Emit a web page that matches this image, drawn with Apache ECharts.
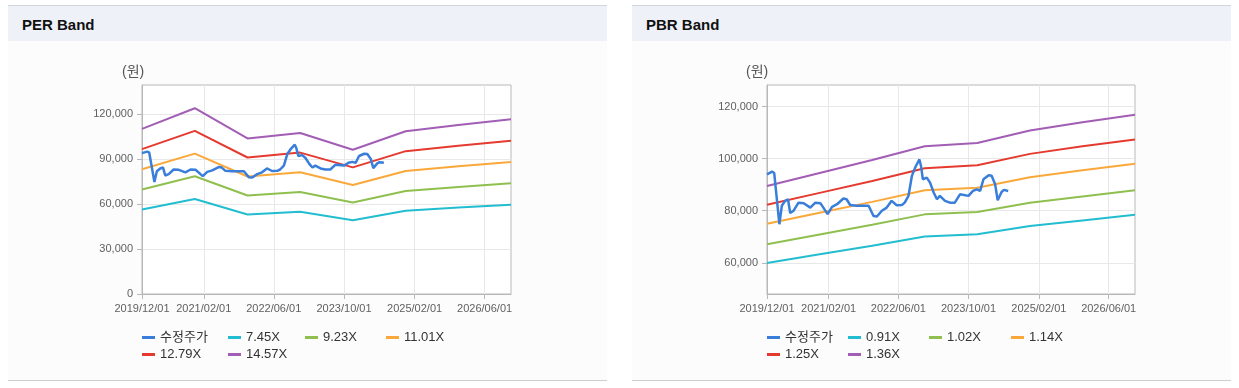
<!DOCTYPE html>
<html><head><meta charset="utf-8">
<script src="https://cdn.jsdelivr.net/npm/echarts@6/dist/echarts.min.js"></script>
<style>
html,body{margin:0;padding:0;background:#fff;width:1239px;height:388px;overflow:hidden;position:relative}
.panel{position:absolute;top:5px;height:374px;width:599px;background:#fcfcfc;border-top:1px solid #d3d6da;border-bottom:1px solid #cdcdcd}
.head{position:absolute;left:0;top:0;width:100%;height:35px;background:#eef2f8;font-family:"Liberation Sans",Arial,sans-serif;font-weight:bold;font-size:15px;line-height:37px;color:#111;padding-left:14px;box-sizing:border-box}
#c{position:absolute;left:0;top:0;width:1239px;height:388px}
</style>
</head><body>
<div class="panel" style="left:8px"><div class="head">PER Band</div></div>
<div class="panel" style="left:632px"><div class="head">PBR Band</div></div>
<div id="c"></div>
<script>
// ---- data ----
const X_MIN = '2019/12/01';
const X_MAX = '2026/12/01';
const X_TICK_LABELS = ['2019/12/01', '2021/02/01', '2022/06/01', '2023/10/01', '2025/02/01', '2026/06/01'];
const BAND_DATES = ['2019/12/01', '2020/12/01', '2021/12/01', '2022/12/01', '2023/12/01', '2024/12/01', '2025/12/01', '2026/12/01'];

const PER_NAMES = ['7.45X', '9.23X', '11.01X', '12.79X', '14.57X'];
const PER_745 = [56340, 63410, 53070, 54970, 49250, 55530, 57680, 59620];
const PER_923 = [69810, 78560, 65760, 68100, 61010, 68800, 71460, 73860];
const PER_1101 = [83270, 93710, 78440, 81230, 72780, 82070, 85240, 88100];
const PER_1279 = [96730, 108860, 91120, 94370, 84540, 95340, 99020, 102350];
const PER_1457 = [110190, 124010, 103800, 107500, 96310, 108610, 112800, 116590];
const PER_Y_TICKS = [0, 30000, 60000, 90000, 120000];

const PBR_NAMES = ['0.91X', '1.02X', '1.14X', '1.25X', '1.36X'];
const PBR_091 = [59890, 63240, 66580, 70130, 70930, 74140, 76280, 78420];
const PBR_102 = [67130, 70880, 74620, 78600, 79500, 83100, 85500, 87900];
const PBR_114 = [75020, 79220, 83400, 87850, 88850, 92880, 95560, 98050];
const PBR_125 = [82260, 86860, 91450, 96330, 97430, 101840, 104780, 107400];
const PBR_136 = [89500, 94510, 99500, 104800, 106000, 110800, 114000, 116900];
const PBR_Y_TICKS = [60000, 80000, 100000, 120000];

const PRICE_NAME = '수정주가';
const PRICE_DATES = ['2019/12/01','2020/01/05','2020/01/20','2020/02/25','2020/03/13','2020/04/05','2020/04/25','2020/05/10','2020/06/03','2020/07/07','2020/08/12','2020/09/27','2020/11/01','2020/12/06','2021/01/25','2021/02/25','2021/04/01','2021/05/15','2021/06/06','2021/07/01','2021/08/15','2021/11/06','2021/12/10','2022/01/03','2022/02/06','2022/03/12','2022/04/15','2022/05/20','2022/06/25','2022/07/15','2022/08/10','2022/09/03','2022/09/28','2022/10/25','2022/11/05','2022/11/18','2022/12/15','2023/01/07','2023/02/01','2023/02/24','2023/03/16','2023/04/21','2023/05/25','2023/06/28','2023/08/03','2023/10/01','2023/11/01','2023/11/28','2023/12/21','2024/01/13','2024/02/18','2024/03/10','2024/04/03','2024/04/21','2024/05/18','2024/06/03','2024/07/03'];
const PRICE_VALUES = [94000,95000,94500,74800,81900,83800,84400,79100,80000,83100,82900,81200,83100,82900,78700,81500,82500,84700,84400,82200,81900,81900,78000,77800,80000,81200,83800,82100,82200,83100,85700,93400,96900,99700,97200,92100,92700,90800,87000,84400,85700,83800,83100,83100,86300,85700,87600,88200,87600,92100,93600,93400,90200,84000,87200,88000,87600];

const PRICE_COLOR = '#3a7edb';
const BAND_COLORS = ['#22bdd0', '#8fc04f', '#fba83a', '#e53a2f', '#a25db5'];

// ---- build ----
const ts = s => { const p = s.split('/'); return new Date(+p[0], +p[1] - 1, +p[2]).getTime(); };
const pairs = (ds, vs) => ds.map((d, i) => [ts(d), vs[i]]);
const pad = n => (n < 10 ? '0' : '') + n;
const fmtDate = v => { const d = new Date(v); return d.getFullYear() + '/' + pad(d.getMonth() + 1) + '/' + pad(d.getDate()); };
const fmtNum = v => String(Math.round(v)).replace(/\B(?=(\d{3})+(?!\d))/g, ',');
const FONT = '"Liberation Sans", Arial, "Noto Sans CJK KR", sans-serif';
const AXIS_COLOR = '#b8b8b8';
const GRID_W = 369, GRID_H = 209, GRID_TOP = 85;
const X_TICKS = X_TICK_LABELS.map(ts);

function xAxis(gi) {
  return {
    type: 'value', gridIndex: gi, min: ts(X_MIN), max: ts(X_MAX),
    axisLine: { lineStyle: { color: AXIS_COLOR } },
    axisTick: { show: true, length: 5, customValues: X_TICKS, lineStyle: { color: AXIS_COLOR } },
    axisLabel: { customValues: X_TICKS, formatter: fmtDate, fontSize: 11, color: '#606060', fontFamily: FONT, margin: 9, showMinLabel: true, showMaxLabel: true, hideOverlap: false },
    splitLine: { show: true, lineStyle: { color: '#e8e8e8' } }
  };
}
function yAxis(gi, min, max, ticks) {
  return {
    type: 'value', gridIndex: gi, min: min, max: max, scale: true,
    axisLine: { show: true, lineStyle: { color: AXIS_COLOR } },
    axisTick: { show: true, length: 5, customValues: ticks, lineStyle: { color: AXIS_COLOR } },
    axisLabel: { customValues: ticks, formatter: fmtNum, fontSize: 11, color: '#606060', fontFamily: FONT, margin: 9 },
    splitLine: { show: true, lineStyle: { color: '#e8e8e8' } }
  };
}
function band(name, gi, vals, color) {
  return { name: name, type: 'line', xAxisIndex: gi, yAxisIndex: gi, data: pairs(BAND_DATES, vals), symbol: 'none', lineStyle: { width: 2, color: color }, itemStyle: { color: color }, z: 2 };
}
function price(gi) {
  return { name: PRICE_NAME, type: 'line', xAxisIndex: gi, yAxisIndex: gi, data: pairs(PRICE_DATES, PRICE_VALUES), symbol: 'none', lineStyle: { width: 2.5, color: PRICE_COLOR }, itemStyle: { color: PRICE_COLOR }, z: 5 };
}
function legendItem(name, left, top) {
  return { data: [name], left: left, top: top, padding: 0, icon: 'rect', itemWidth: 13, itemHeight: 3, selectedMode: false, textStyle: { fontSize: 13, color: '#333', fontFamily: FONT } };
}
const R1 = 331, R2 = 348;
const perSeries = [price(0)].concat(PER_NAMES.map((n, i) => band(n, 0, [PER_745, PER_923, PER_1101, PER_1279, PER_1457][i], BAND_COLORS[i])));
const pbrSeries = [price(1)].concat(PBR_NAMES.map((n, i) => band(n, 1, [PBR_091, PBR_102, PBR_114, PBR_125, PBR_136][i], BAND_COLORS[i])));
const L1 = [142, 228, 305, 386], L2 = [767, 848, 929, 1011];
const legends = [
  legendItem(PRICE_NAME, L1[0], R1), legendItem(PER_NAMES[0], L1[1], R1), legendItem(PER_NAMES[1], L1[2], R1), legendItem(PER_NAMES[2], L1[3], R1),
  legendItem(PER_NAMES[3], L1[0], R2), legendItem(PER_NAMES[4], L1[1], R2),
  legendItem(PRICE_NAME, L2[0], R1), legendItem(PBR_NAMES[0], L2[1], R1), legendItem(PBR_NAMES[1], L2[2], R1), legendItem(PBR_NAMES[2], L2[3], R1),
  legendItem(PBR_NAMES[3], L2[0], R2), legendItem(PBR_NAMES[4], L2[1], R2)
];

const chart = echarts.init(document.getElementById('c'), null, { renderer: 'canvas' });
chart.setOption({
  animation: false,
  backgroundColor: 'transparent',
  grid: [
    { left: 142, top: GRID_TOP, width: GRID_W, height: GRID_H, show: true, backgroundColor: '#fff', borderColor: AXIS_COLOR, borderWidth: 1 },
    { left: 767, top: GRID_TOP, width: GRID_W - 1, height: GRID_H, show: true, backgroundColor: '#fff', borderColor: AXIS_COLOR, borderWidth: 1 }
  ],
  xAxis: [xAxis(0), xAxis(1)],
  yAxis: [yAxis(0, 0, 139500, PER_Y_TICKS), yAxis(1, 48000, 128300, PBR_Y_TICKS)],
  legend: legends,
  graphic: [
    { type: 'text', left: 122, top: 65, style: { text: '(원)', font: '14px ' + FONT, fill: '#555' } },
    { type: 'text', left: 746, top: 65, style: { text: '(원)', font: '14px ' + FONT, fill: '#555' } }
  ],
  series: perSeries.concat(pbrSeries)
});
</script>
</body></html>
